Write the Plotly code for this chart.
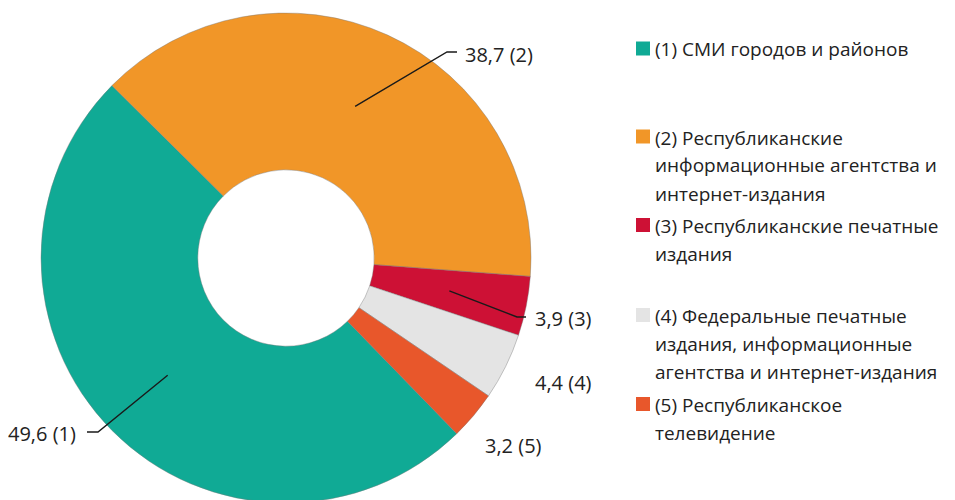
import math
import plotly.graph_objects as go

# ---------------- data ----------------
categories = ["(1)", "(2)", "(3)", "(4)", "(5)"]
values = [49.6, 38.7, 3.9, 4.4, 3.2]
legend_labels = [
    "(1) СМИ городов и районов",
    "(2) Республиканские\nинформационные агентства и\nинтернет-издания",
    "(3) Республиканские печатные\nиздания",
    "(4) Федеральные печатные\nиздания, информационные\nагентства и интернет-издания",
    "(5) Республиканское\nтелевидение",
]
colors = ["#10AA95", "#F19628", "#CD1135", "#E4E4E4", "#E8572B"]

# ---------------- layout constants (page pixels) ----------------
W, H = 955, 500
OFF = 8                # page body margin
FONT = "Open Sans"
FS = 20
FS_LEG = 19
ROTATION = 135.8
HOLE = 0.36
DOM_X = (41, 531)      # pie domain in page px
DOM_Y = (13, 503)      # top, bottom in page px


def P(x, y):
    return (x - OFF) / W, 1 - (y - OFF) / H


fig = go.Figure()
dx0, dy1 = P(DOM_X[0], DOM_Y[1])
dx1, dy0 = P(DOM_X[1], DOM_Y[0])
fig.add_trace(go.Pie(
    labels=categories,
    values=values,
    sort=False,
    direction="clockwise",
    rotation=ROTATION,
    hole=HOLE,
    textinfo="none",
    hoverinfo="label+value",
    marker=dict(colors=colors, line=dict(color="rgba(120,120,120,0.7)", width=0.6)),
    domain=dict(x=[dx0, dx1], y=[max(dy1, 0), min(dy0, 1)]),
    showlegend=False,
))

# pie geometry (page px) to anchor leader lines on slice mid-angles
cx = (DOM_X[0] + DOM_X[1]) / 2
R = min(DOM_X[1] - DOM_X[0], DOM_Y[1] - DOM_Y[0]) / 2
cy = (DOM_Y[0] + DOM_Y[1]) / 2
total = sum(values)
mid_angles = []
acc = ROTATION
for v in values:
    span = v / total * 360
    mid_angles.append(acc + span / 2)
    acc += span

# label placement: text left x, text center y, optional elbow + end of leader line
label_layout = {
    0: dict(tx=8, ty=433, elbow=(98, 432), end=(87, 432)),
    1: dict(tx=465, ty=55, elbow=(447, 52), end=(457, 52)),
    2: dict(tx=535, ty=318, elbow=(517, 317), end=(526, 317)),
    3: dict(tx=535, ty=382),
    4: dict(tx=485, ty=445),
}

shapes = []
annotations = []
for i, v in enumerate(values):
    lay = label_layout[i]
    txt = f"{v:.1f}".replace(".", ",") + " " + categories[i]
    x, y = P(lay["tx"], lay["ty"])
    annotations.append(dict(x=x, y=y, xref="paper", yref="paper", text=txt,
                            showarrow=False, xanchor="left", yanchor="middle",
                            xshift=-2,
                            font=dict(family=FONT, size=FS, color="#222222")))
    if "elbow" in lay:
        a = math.radians(mid_angles[i])
        sx = cx + 0.68 * R * math.sin(a)
        sy = cy - 0.68 * R * math.cos(a)
        pts = [P(sx, sy), P(*lay["elbow"]), P(*lay["end"])]
        path = "M {} {} L {} {} L {} {}".format(*[c for p in pts for c in p])
        shapes.append(dict(type="path", xref="paper", yref="paper", path=path,
                           line=dict(color="#1a1a1a", width=1.4)))

# manual legend
legend_y = [48.5, 136.5, 225, 315, 404]
LINE_GAP = 28
for i, lab in enumerate(legend_labels):
    yc = legend_y[i]
    x0, y0 = P(636, yc - 7)
    x1, y1 = P(650, yc + 7)
    shapes.append(dict(type="rect", xref="paper", yref="paper", x0=x0, x1=x1, y0=y1, y1=y0,
                       fillcolor=colors[i], line=dict(width=0)))
    for j, line in enumerate(lab.split("\n")):
        x, y = P(655, yc + 1 + j * LINE_GAP)
        annotations.append(dict(x=x, y=y, xref="paper", yref="paper", text=line,
                                showarrow=False, xanchor="left", yanchor="middle",
                                xshift=-2,
                                font=dict(family=FONT, size=FS_LEG, color="#222222")))

fig.update_layout(
    width=W, height=H,
    margin=dict(l=0, r=0, t=0, b=0),
    paper_bgcolor="white", plot_bgcolor="white",
    shapes=shapes, annotations=annotations,
    showlegend=False,
)

fig.write_html("out.html")
